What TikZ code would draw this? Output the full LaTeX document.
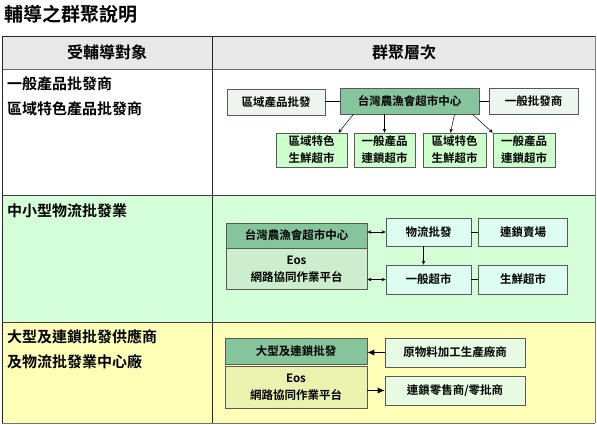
\documentclass[tikz,border=0pt]{standalone}
\usepackage{fontspec}
\setmainfont{Noto Sans CJK TC}[BoldFont={* Bold}]
\usetikzlibrary{arrows.meta, positioning}

\definecolor{headgray}{HTML}{E8E8E8}
\definecolor{rowgreen}{HTML}{D4FFD8}
\definecolor{rowyellow}{HTML}{FFFFB8}
\definecolor{hubgreen}{HTML}{86C49C}
\definecolor{sidegray}{HTML}{EEF5EE}
\definecolor{marketgreen}{HTML}{CCFFCC}
\definecolor{aqua}{HTML}{DDFDF2}
\definecolor{eosgreen}{HTML}{CCEECC}
\definecolor{eosyellow}{HTML}{EAF2AE}
\definecolor{palegreen}{HTML}{E6FBE2}

\begin{document}
\begin{tikzpicture}[
    x=1pt, y=-1pt,
    box/.style={
        rectangle, draw=black!65, line width=0.6pt,
        inner sep=0pt, align=center,
        font=\fontsize{11.5}{17}\selectfont\bfseries,
    },
    hubbox/.style={box, fill=hubgreen},
    sidebox/.style={box, fill=sidegray},
    mktbox/.style={box, fill=marketgreen},
    aquabox/.style={box, fill=aqua},
    paleox/.style={box, fill=palegreen},
    leftlabel/.style={anchor=base west, font=\fontsize{15}{17}\selectfont\bfseries, inner sep=0pt},
    headlabel/.style={font=\fontsize{16}{18}\selectfont\bfseries},
    arr/.style={-{Stealth[length=4pt, width=3.5pt]}, line width=0.5pt},
    darr/.style={{Stealth[length=4pt, width=3.5pt]}-{Stealth[length=4pt, width=3.5pt]}, line width=0.6pt},
    barr/.style={-{Latex[length=7pt, width=6pt]}, line width=0.8pt},
]
\useasboundingbox (0,0) rectangle (597,424);

% === TABLE ===
\fill[headgray] (2,36) rectangle (595,69);
\fill[white] (2,69) rectangle (595,195);
\fill[rowgreen] (2,195) rectangle (595,322);
\fill[rowyellow] (2,322) rectangle (595,423);
\draw[line width=1pt, black!85] (2,36) -- (595,36);
\draw[line width=1pt, black!60] (2,69) -- (595,69);
\draw[line width=0.8pt, black!75] (2,195) -- (595,195);
\draw[line width=0.8pt, black!75] (2,322) -- (595,322);
\draw[line width=1pt, black!55] (2,423) -- (595,423);
\draw[line width=1pt, black!85] (2,36) -- (2,423);
\draw[line width=1pt, black!85] (212,36) -- (212,423);
\draw[line width=1pt, black!50] (595,36) -- (595,423);

\node[anchor=west, font=\fontsize{19}{21}\selectfont\bfseries] (title) at (1,14) {輔導之群聚說明};
\node[headlabel] (headleft) at (107,52) {受輔導對象};
\node[headlabel] (headright) at (404,52) {群聚層次};

% Left column
\node[leftlabel] (obj1a) at (7,89.5) {一般產品批發商};
\node[leftlabel] (obj1b) at (7,114.5) {區域特色產品批發商};
\node[leftlabel] (obj2) at (7,216.5) {中小型物流批發業};
\node[leftlabel] (obj3a) at (7,342.5) {大型及連鎖批發供應商};
\node[leftlabel] (obj3b) at (7,367.5) {及物流批發業中心廠};

% === ROW 1 ===
\node[hubbox, minimum width=139pt, minimum height=26pt] (hub) at (409.5,101) {台灣農漁會超市中心};
\node[sidebox, minimum width=98pt, minimum height=26pt] (regwh) at (276,102) {區域產品批發};
\node[sidebox, minimum width=89pt, minimum height=26pt] (genwh) at (533.5,101) {一般批發商};
\node[mktbox, minimum width=71pt, minimum height=34pt] (mkt1) at (311.5,150) {區域特色\\生鮮超市};
\node[mktbox, minimum width=61pt, minimum height=34pt] (mkt2) at (384.5,150) {一般產品\\連鎖超市};
\node[mktbox, minimum width=63pt, minimum height=34pt] (mkt3) at (454.5,150) {區域特色\\生鮮超市};
\node[mktbox, minimum width=62pt, minimum height=34pt] (mkt4) at (524,150) {一般產品\\連鎖超市};

\draw[line width=0.6pt] (regwh.east |- hub.west) -- (hub.west);
\draw[line width=0.6pt] (hub.east) -- (genwh.west);
\draw[arr] ([xshift=-56pt]hub.south) -- ([xshift=27pt]mkt1.north);
\draw[arr] (hub.south -| mkt2.north) -- (mkt2.north);
\draw[arr] (hub.south -| mkt3.north) -- ([xshift=-4pt]mkt3.north);
\draw[arr] ([xshift=63pt]hub.south) -- (mkt4.north west);

% === ROW 2 ===
\node[hubbox, minimum width=141pt, minimum height=25pt] (hubtwo) at (296.5,235.5) {台灣農漁會超市中心};
\node[box, fill=eosgreen, minimum width=141pt, minimum height=41pt, below=0pt of hubtwo] (eostwo) {Eos\\網路協同作業平台};
\node[aquabox, minimum width=85pt, minimum height=28pt] (logis) at (428.5,232) {物流批發};
\node[aquabox, minimum width=89pt, minimum height=28pt, right=7pt of logis] (chain) {連鎖賣場};
\node[aquabox, minimum width=85pt, minimum height=29pt] (gensm) at (428.5,279.5) {一般超市};
\node[aquabox, minimum width=89pt, minimum height=29pt, right=7pt of gensm] (fresh) {生鮮超市};

\draw[darr] (logis.west -| hubtwo.east) -- (logis.west);
\draw[darr] (gensm.west -| eostwo.east) -- (gensm.west);
\draw[arr] ([xshift=-5pt]logis.south) -- ([xshift=-5pt]gensm.north);
\draw[line width=0.6pt] (logis) -- (chain);
\draw[line width=0.6pt] (gensm) -- (fresh);

% === ROW 3 ===
\node[hubbox, minimum width=142pt, minimum height=26pt] (bigwh) at (296,351) {大型及連鎖批發};
\node[box, fill=eosyellow, minimum width=142pt, minimum height=42pt, below=2pt of bigwh] (eosthree) {Eos\\網路協同作業平台};
\node[paleox, minimum width=140pt, minimum height=29pt] (raw) at (455,352.5) {原物料加工生產廠商};
\node[paleox, minimum width=140pt, minimum height=29pt] (retail) at (455,390.5) {連鎖零售商/零批商};

\draw[barr] (raw.west) -- (raw.west -| bigwh.east);
\draw[barr] (retail.west -| eosthree.east) -- (retail.west);

\end{tikzpicture}
\end{document}
